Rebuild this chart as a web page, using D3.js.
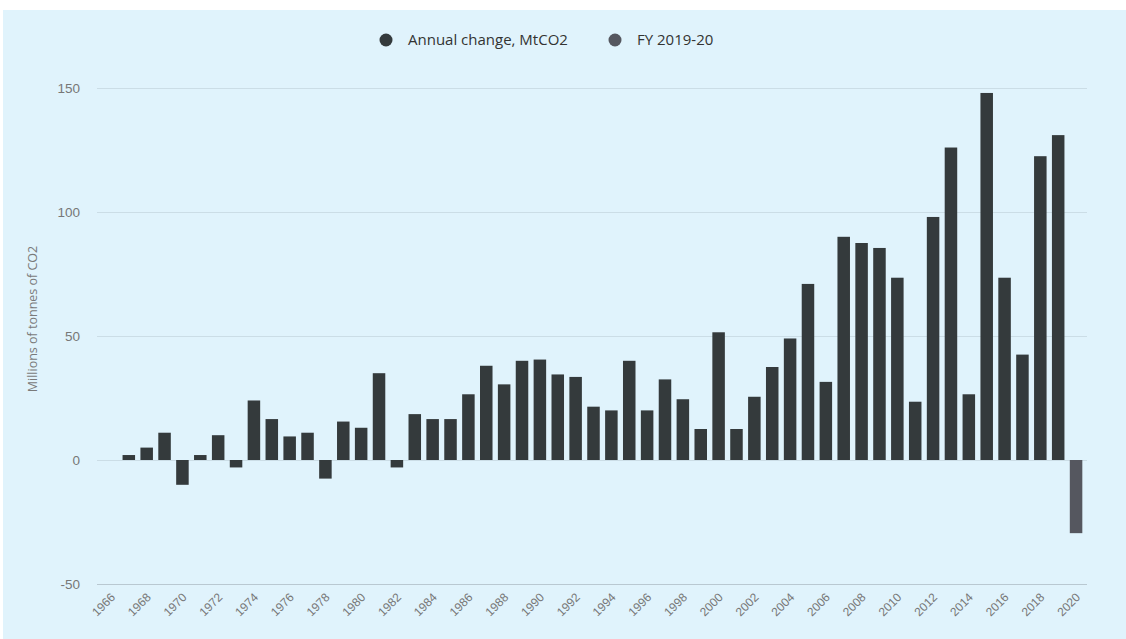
<!DOCTYPE html>
<html>
<head>
<meta charset="utf-8">
<script src="https://cdn.jsdelivr.net/npm/d3@7"></script>
<style>
  body { margin: 0; background: #ffffff; }
  svg { display: block; font-family: "Open Sans", "DejaVu Sans", sans-serif; }
</style>
</head>
<body>
<div class="chart"></div>
<script>
// chart data
var years = [1966, 1967, 1968, 1969, 1970, 1971, 1972, 1973, 1974, 1975,
  1976, 1977, 1978, 1979, 1980, 1981, 1982, 1983, 1984, 1985,
  1986, 1987, 1988, 1989, 1990, 1991, 1992, 1993, 1994, 1995,
  1996, 1997, 1998, 1999, 2000, 2001, 2002, 2003, 2004, 2005,
  2006, 2007, 2008, 2009, 2010, 2011, 2012, 2013, 2014, 2015,
  2016, 2017, 2018, 2019, 2020];

// Annual change, MtCO2 (null = no bar)
var annualChange = [null, 2, 5, 11, -10, 2, 10, -3, 24, 16.5,
  9.5, 11, -7.5, 15.5, 13, 35, -3, 18.5, 16.5, 16.5,
  26.5, 38, 30.5, 40, 40.5, 34.5, 33.5, 21.5, 20, 40,
  20, 32.5, 24.5, 12.5, 51.5, 12.5, 25.5, 37.5, 49, 71,
  31.5, 90, 87.5, 85.5, 73.5, 23.5, 98, 126, 26.5, 148,
  73.5, 42.5, 122.5, 131, null];

// FY 2019-20 series
var fyYears = [2020];
var fyChange = [-29.5];

var yTicks = [-50, 0, 50, 100, 150];
var xTickYears = years.filter(function(d) { return d % 2 === 0; });

var seriesNames = ["Annual change, MtCO2", "FY 2019-20"];
var seriesColors = ["#343a3c", "#55575f"];

var W = 1126, H = 639;

var svg = d3.select(".chart").append("svg")
  .attr("width", W)
  .attr("height", H);

// panel background
svg.append("rect")
  .attr("x", 3).attr("y", 10)
  .attr("width", W - 3).attr("height", H - 10)
  .attr("fill", "#e0f3fc");

// scales
var x = d3.scaleBand()
  .domain(years)
  .range([102, 1085])
  .paddingInner(0.3)
  .paddingOuter(0.15);

var y = d3.scaleLinear()
  .domain([-50, 150])
  .range([584, 88]);

// gridlines + y labels
var yAxis = svg.append("g")
  .attr("transform", "translate(97,0)")
  .call(d3.axisLeft(y)
    .tickValues(yTicks)
    .tickFormat(String)
    .tickSize(-990)
    .tickPadding(17));
yAxis.select(".domain").remove();
yAxis.selectAll(".tick line")
  .attr("stroke", function(d) { return d === -50 ? "#b9c8d1" : "#cbdde6"; })
  .attr("stroke-width", 1);
yAxis.selectAll(".tick text")
  .attr("fill", "#777")
  .style("font-size", "13.5px");

// y axis title
svg.append("text")
  .attr("transform", "translate(37," + 319 + ") rotate(-90)")
  .attr("text-anchor", "middle")
  .attr("fill", "#7a7a7a")
  .style("font-size", "12.5px")
  .text("Millions of tonnes of CO2");

// x labels
var xAxis = svg.append("g")
  .attr("transform", "translate(0,584)")
  .call(d3.axisBottom(x)
    .tickValues(xTickYears)
    .tickSize(0)
    .tickPadding(0));
xAxis.select(".domain").remove();
xAxis.selectAll(".tick text")
  .attr("fill", "#777")
  .style("font-size", "12px")
  .attr("text-anchor", "end")
  .attr("dy", null)
  .attr("transform", "translate(5,14) rotate(-45)");

// bars: annual change
var barData = years.map(function(d, i) { return { year: d, v: annualChange[i] }; })
  .filter(function(d) { return d.v !== null; });

svg.append("g").selectAll("rect")
  .data(barData)
  .enter().append("rect")
    .attr("x", function(d) { return x(d.year); })
    .attr("width", x.bandwidth())
    .attr("y", function(d) { return y(Math.max(0, d.v)); })
    .attr("height", function(d) { return Math.abs(y(d.v) - y(0)); })
    .attr("fill", seriesColors[0]);

// bars: FY 2019-20
var fyData = fyYears.map(function(d, i) { return { year: d, v: fyChange[i] }; });
svg.append("g").selectAll("rect")
  .data(fyData)
  .enter().append("rect")
    .attr("x", function(d) { return x(d.year); })
    .attr("width", x.bandwidth())
    .attr("y", function(d) { return y(Math.max(0, d.v)); })
    .attr("height", function(d) { return Math.abs(y(d.v) - y(0)); })
    .attr("fill", seriesColors[1]);

// legend
var legendX = [386, 615];
var legend = svg.append("g");
seriesNames.forEach(function(name, i) {
  legend.append("circle")
    .attr("cx", legendX[i]).attr("cy", 40)
    .attr("r", 6.5)
    .attr("fill", seriesColors[i]);
  legend.append("text")
    .attr("x", legendX[i] + 22).attr("y", 40)
    .attr("dy", "0.35em")
    .attr("fill", "#333")
    .style("font-size", "15px")
    .text(name);
});
</script>
</body>
</html>
